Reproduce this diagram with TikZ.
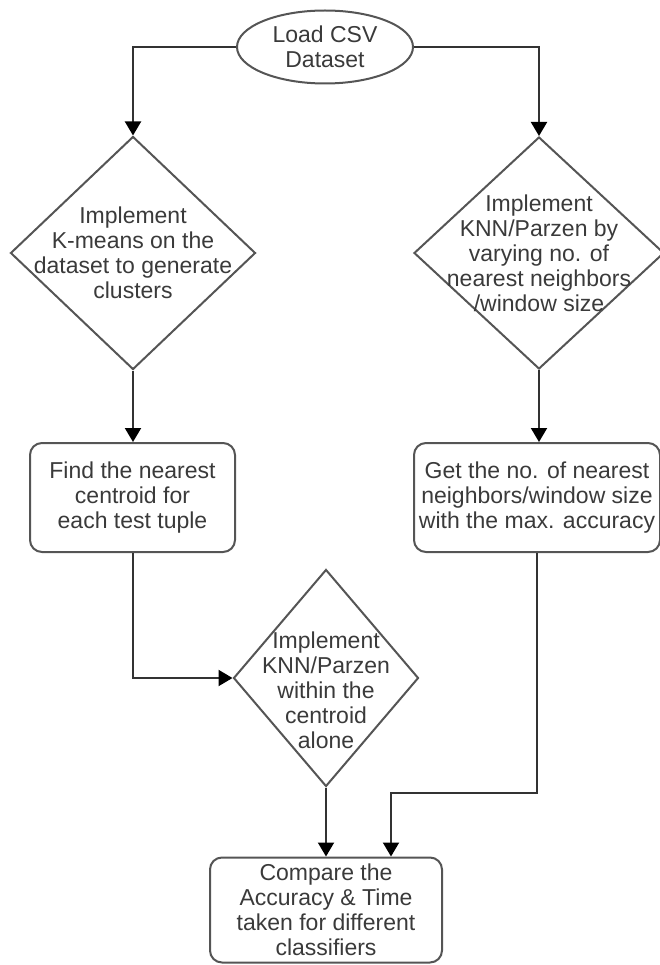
\documentclass[tikz,border=0pt]{standalone}
\usepackage{fontspec}
\setmainfont{Liberation Sans}
\usepackage{xcolor}
\usepackage{tikz}
\usetikzlibrary{shapes.geometric,arrows.meta}
\definecolor{LineGray}{HTML}{555555}
\definecolor{FlowGray}{HTML}{333333}
\definecolor{TextGray}{HTML}{3A3A3A}

\begin{document}
\begin{tikzpicture}[x=1pt,y=-1pt,
  every node/.style={font=\fontsize{23}{25}\selectfont, text=TextGray, align=center},
  shapeline/.style={draw=LineGray, line width=2pt},
  oval/.style={shapeline, ellipse, minimum width=176pt, minimum height=73pt, inner sep=0pt},
  decision/.style={shapeline, diamond, inner sep=0pt},
  process/.style={shapeline, rectangle, rounded corners=12pt, inner sep=0pt},
  flow/.style={draw=FlowGray, line width=2pt, -{Triangle[width=16pt,length=14pt,color=black]}}]
  \useasboundingbox (0,0) rectangle (660,965);
  % start
  \node[oval] (load) at (325,47) {Load CSV\\Dataset};
  % left branch
  \node[decision, minimum width=245pt, minimum height=233pt] (kmeans) at (133,253) {};
  \node (kmeanstxt) at (kmeans.center) {Implement\\K-means on the\\dataset to generate\\clusters};
  \node[process, minimum width=205pt, minimum height=109pt] (nearest) at (132.5,497.5) {Find the nearest\\centroid for\\each test tuple};
  \node[decision, minimum width=185pt, minimum height=217pt] (within) at (326,678) {};
  \node (withintxt) at (326,690) {Implement\\KNN/Parzen\\within the\\centroid\\alone};
  % right branch
  \node[decision, minimum width=250pt, minimum height=232pt] (knn) at (539,253) {};
  \node (knntxt) at (knn.center) {Implement\\KNN/Parzen by\\varying no. of\\nearest neighbors\\/window size};
  \node[process, minimum width=246pt, minimum height=109pt] (getno) at (537,497.5) {Get the no. of nearest\\neighbors/window size\\with the max. accuracy};
  % end
  \node[process, minimum width=232pt, minimum height=105pt] (compare) at (326,910) {Compare the\\Accuracy \& Time\\taken for different\\classifiers};
  \coordinate (bend) at (391,793);
  % connectors
  \draw[flow] (load.west) -| (kmeans.north);
  \draw[flow] (load.east) -| (knn.north);
  \draw[flow] (kmeans.south) -- (kmeans.south |- nearest.north);
  \draw[flow] (knn.south) -- (knn.south |- getno.north);
  \draw[flow] (nearest.south) |- (within.west);
  \draw[flow] (within.south) -- (within.south |- compare.north);
  \draw[flow] (getno.south) |- (bend) -- (bend |- compare.north);
\end{tikzpicture}
\end{document}
